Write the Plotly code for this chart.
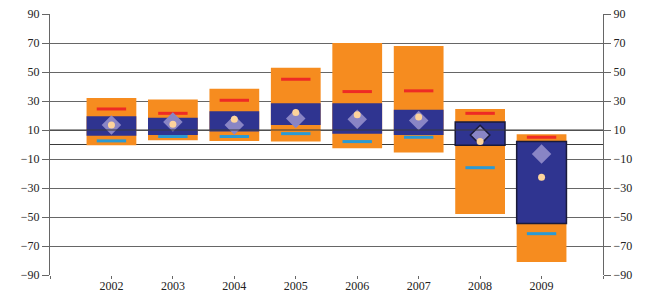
import plotly.graph_objects as go

years = ['2002', '2003', '2004', '2005', '2006', '2007', '2008', '2009']
range_low = [-0.5, 3, 2.5, 2, -2.5, -5.5, -48, -81]
range_high = [32, 31, 38.5, 53, 70, 68, 24.5, 7]
q_low = [6, 6.5, 9, 13.5, 7.5, 6.5, -0.5, -54.5]
q_high = [19.5, 18.5, 23, 28.5, 28.5, 24, 15.5, 2]
red_vals = [24.5, 21.5, 30.5, 45, 36.5, 37, 21.5, 5]
blue_vals = [2.5, 5.5, 5.5, 7.5, 2, 5, -16, -61.5]
diamond_vals = [13.5, 15.5, 13.5, 18, 17.5, 16.5, 6.5, -6.5]
circle_vals = [13.5, 14, 17.5, 22, 20.5, 19, 2, -22.5]
outlined = [False, False, False, False, False, False, True, True]
y_ticks = [-90, -70, -50, -30, -10, 10, 30, 50, 70, 90]

x = list(range(len(years)))
ORANGE = '#F68C1F'
NAVY = '#2F3490'
GRID = '#666666'
FONT = dict(family='Liberation Serif, Times New Roman, serif', size=12, color='#222222')

fig = go.Figure()
fig.add_trace(go.Bar(x=x, y=[h - l for h, l in zip(range_high, range_low)], base=range_low,
                     width=0.81, marker=dict(color=ORANGE, line=dict(width=0)), showlegend=False))
fig.add_trace(go.Bar(x=x, y=[h - l for h, l in zip(q_high, q_low)], base=q_low,
                     width=0.81, marker=dict(color=NAVY,
                                             line=dict(color='#1a1a3a', width=[1.5 if o else 0 for o in outlined])),
                     showlegend=False))
fig.add_trace(go.Scatter(x=x, y=red_vals, mode='markers', showlegend=False,
                         marker=dict(symbol='line-ew', size=21, line=dict(color='#EE2B24', width=3))))
fig.add_trace(go.Scatter(x=x, y=blue_vals, mode='markers', showlegend=False,
                         marker=dict(symbol='line-ew', size=21, line=dict(color='#2B9AD4', width=3))))
fig.add_trace(go.Scatter(x=x, y=diamond_vals, mode='markers', showlegend=False,
                         marker=dict(symbol='diamond', size=15, color='#8985C5',
                                     line=dict(color='#1a1a3a', width=[1.5 if o and i == 6 else 0 for i, o in enumerate(outlined)]))))
fig.add_trace(go.Scatter(x=x, y=circle_vals, mode='markers', showlegend=False,
                         marker=dict(symbol='circle', size=7, color='#FDD49C', line=dict(width=0))))
# invisible trace for right axis
fig.add_trace(go.Scatter(x=[x[0]], y=[0], yaxis='y2', mode='markers', marker=dict(opacity=0),
                         showlegend=False, hoverinfo='skip'))

fig.add_shape(type='line', xref='paper', x0=0, x1=1, yref='y', y0=10, y1=10,
              line=dict(color='#3a3a3a', width=1.2), layer='above')

fig.update_layout(
    width=646, height=294,
    margin=dict(l=50, r=43, t=14, b=19, autoexpand=False),
    paper_bgcolor='white', plot_bgcolor='white',
    barmode='overlay', font=FONT,
    xaxis=dict(range=[-1, 8], tickmode='array', tickvals=[-1] + x + [8], ticktext=[''] + years + [''],
               ticks='outside', ticklen=3, tickcolor=GRID, tickwidth=1.3, automargin=False,
               ticklabelstandoff=-3,
               showgrid=False, zeroline=False, showline=False, tickfont=FONT),
    yaxis=dict(range=[-90, 90], tickmode='array', tickvals=y_ticks,
               ticktext=[str(v).replace('-', '\u2212') for v in y_ticks],
               ticks='outside', ticklen=7, tickcolor=GRID, tickwidth=1.3, automargin=False,
               showgrid=True, gridcolor=GRID, gridwidth=1.4,
               zeroline=True, zerolinecolor='#3a3a3a', zerolinewidth=1.3,
               showline=True, linecolor=GRID, linewidth=1.3, tickfont=FONT),
    yaxis2=dict(range=[-90, 90], overlaying='y', side='right', tickmode='array', tickvals=y_ticks,
                ticktext=[str(v).replace('-', '\u2212') for v in y_ticks],
                ticks='outside', ticklen=7, tickcolor=GRID, tickwidth=1.3, automargin=False,
                showgrid=False, zeroline=False,
                showline=True, linecolor=GRID, linewidth=1.3, tickfont=FONT),
)

fig.write_html('out.html', config={'displayModeBar': False},
               post_script="document.body.style.margin='0';document.body.style.padding='0';")
